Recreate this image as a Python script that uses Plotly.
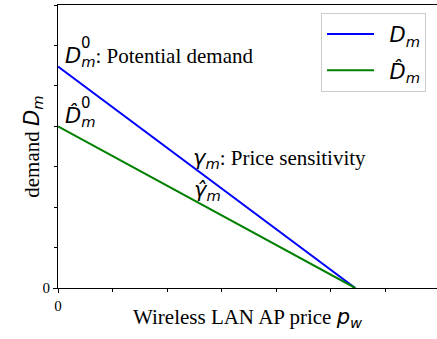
import plotly.graph_objects as go

# ---- data ----
price = [0, 5.45]                 # Wireless LAN AP price p_w (arbitrary units)
demand_D = [5.48, 0]              # D_m
demand_Dhat = [4.0, 0]            # \hat D_m
x_tick_vals = [0]
x_tick_text = ["0"]
y_tick_vals = [0]
y_tick_text = ["0"]
label_x = 2.5                     # where the sensitivity labels sit

SERIF = "Liberation Serif, Times New Roman, serif"
SANS = "DejaVu Sans"

def mi(s):
    return f"<span style='font-family:{SANS}'><i>{s}</i></span>"

def sub(s):
    return f"<sub><span style='font-family:{SANS}'><i>{s}</i></span></sub>"

def line_at(x, y0, x1):
    return y0 * (1 - x / x1)

fig = go.Figure()
fig.add_trace(go.Scatter(x=price, y=demand_D, mode="lines",
                         line=dict(color="#0000ff", width=2),
                         legendgroup="a",
                         name="\u2002" + mi("D") + sub("m")))
fig.add_trace(go.Scatter(x=price, y=demand_Dhat, mode="lines",
                         line=dict(color="#008000", width=2),
                         legendgroup="b",
                         name="\u2002" + mi("D\u0302") + sub("m")))

FS = 21
ann_font = dict(family=SERIF, size=FS, color="black")
annotations = [
    dict(x=0.1, y=demand_D[0], text=mi("D") + sub("m") + ": Potential demand", yshift=-6),
    dict(x=0.1, y=demand_Dhat[0], text=mi("D\u0302") + sub("m"), yshift=-6),
    dict(x=label_x, y=line_at(label_x, demand_D[0], price[1]), text=mi("\u03b3") + sub("m") + ": Price sensitivity", yshift=-6, xshift=-3),
    dict(x=label_x, y=line_at(label_x, demand_Dhat[0], price[1]), text=mi("\u03b3\u0302") + sub("m"), yshift=-6, xshift=-2),
]
for a in annotations:
    fig.add_annotation(xref="x", yref="y", xanchor="left", yanchor="bottom",
                       showarrow=False, font=ann_font, **a)
# superscript zeros stacked above the subscript m
for yv in [demand_D[0], demand_Dhat[0]]:
    fig.add_annotation(xref="x", yref="y", x=0.1, y=yv, text="0",
                       xanchor="left", yanchor="bottom", showarrow=False,
                       xshift=16, yshift=12,
                       font=dict(family=SANS, size=15, color="black"))
# axis titles
fig.add_annotation(xref="paper", yref="paper", x=-0.068, y=0.5,
                   text="demand " + mi("D") + sub("m"), textangle=-90,
                   xanchor="center", yanchor="middle", showarrow=False,
                   font=ann_font)
fig.add_annotation(xref="paper", yref="paper", x=0.5, y=-0.105,
                   text="Wireless LAN AP price " + mi("p") + sub("w"),
                   xanchor="center", yanchor="middle", showarrow=False,
                   font=ann_font)

fig.update_layout(
    width=437, height=339,
    margin=dict(l=58, r=0, t=5, b=51),
    paper_bgcolor="white", plot_bgcolor="white",
    font=dict(family=SERIF, size=15, color="black"),
    showlegend=True,
    legend=dict(x=0.971, y=0.972, xanchor="right", yanchor="top",
                bgcolor="white", bordercolor="#cccccc", borderwidth=1,
                itemwidth=47, tracegroupgap=6,
                font=dict(family=SANS, size=FS, color="black")),
)
fig.update_xaxes(range=[0, 6.95], showgrid=False, zeroline=False,
                 showline=True, linecolor="black", linewidth=1, mirror=True,
                 tickvals=x_tick_vals, ticktext=x_tick_text,
                 tickfont=dict(family=SERIF, size=15, color="black"),
                 ticks="outside", ticklen=4, tickcolor="black",
                 minor=dict(dtick=1, ticks="outside", ticklen=3, tickcolor="black"))
fig.update_yaxes(range=[0, 7], showgrid=False, zeroline=False,
                 showline=True, linecolor="black", linewidth=1,
                 tickvals=y_tick_vals, ticktext=y_tick_text,
                 tickfont=dict(family=SERIF, size=15, color="black"),
                 ticks="outside", ticklen=4, tickcolor="black",
                 minor=dict(dtick=1, ticks="outside", ticklen=3, tickcolor="black"))

fig.write_html("out.html", config={"displayModeBar": False},
               post_script="document.body.style.margin='0';")
